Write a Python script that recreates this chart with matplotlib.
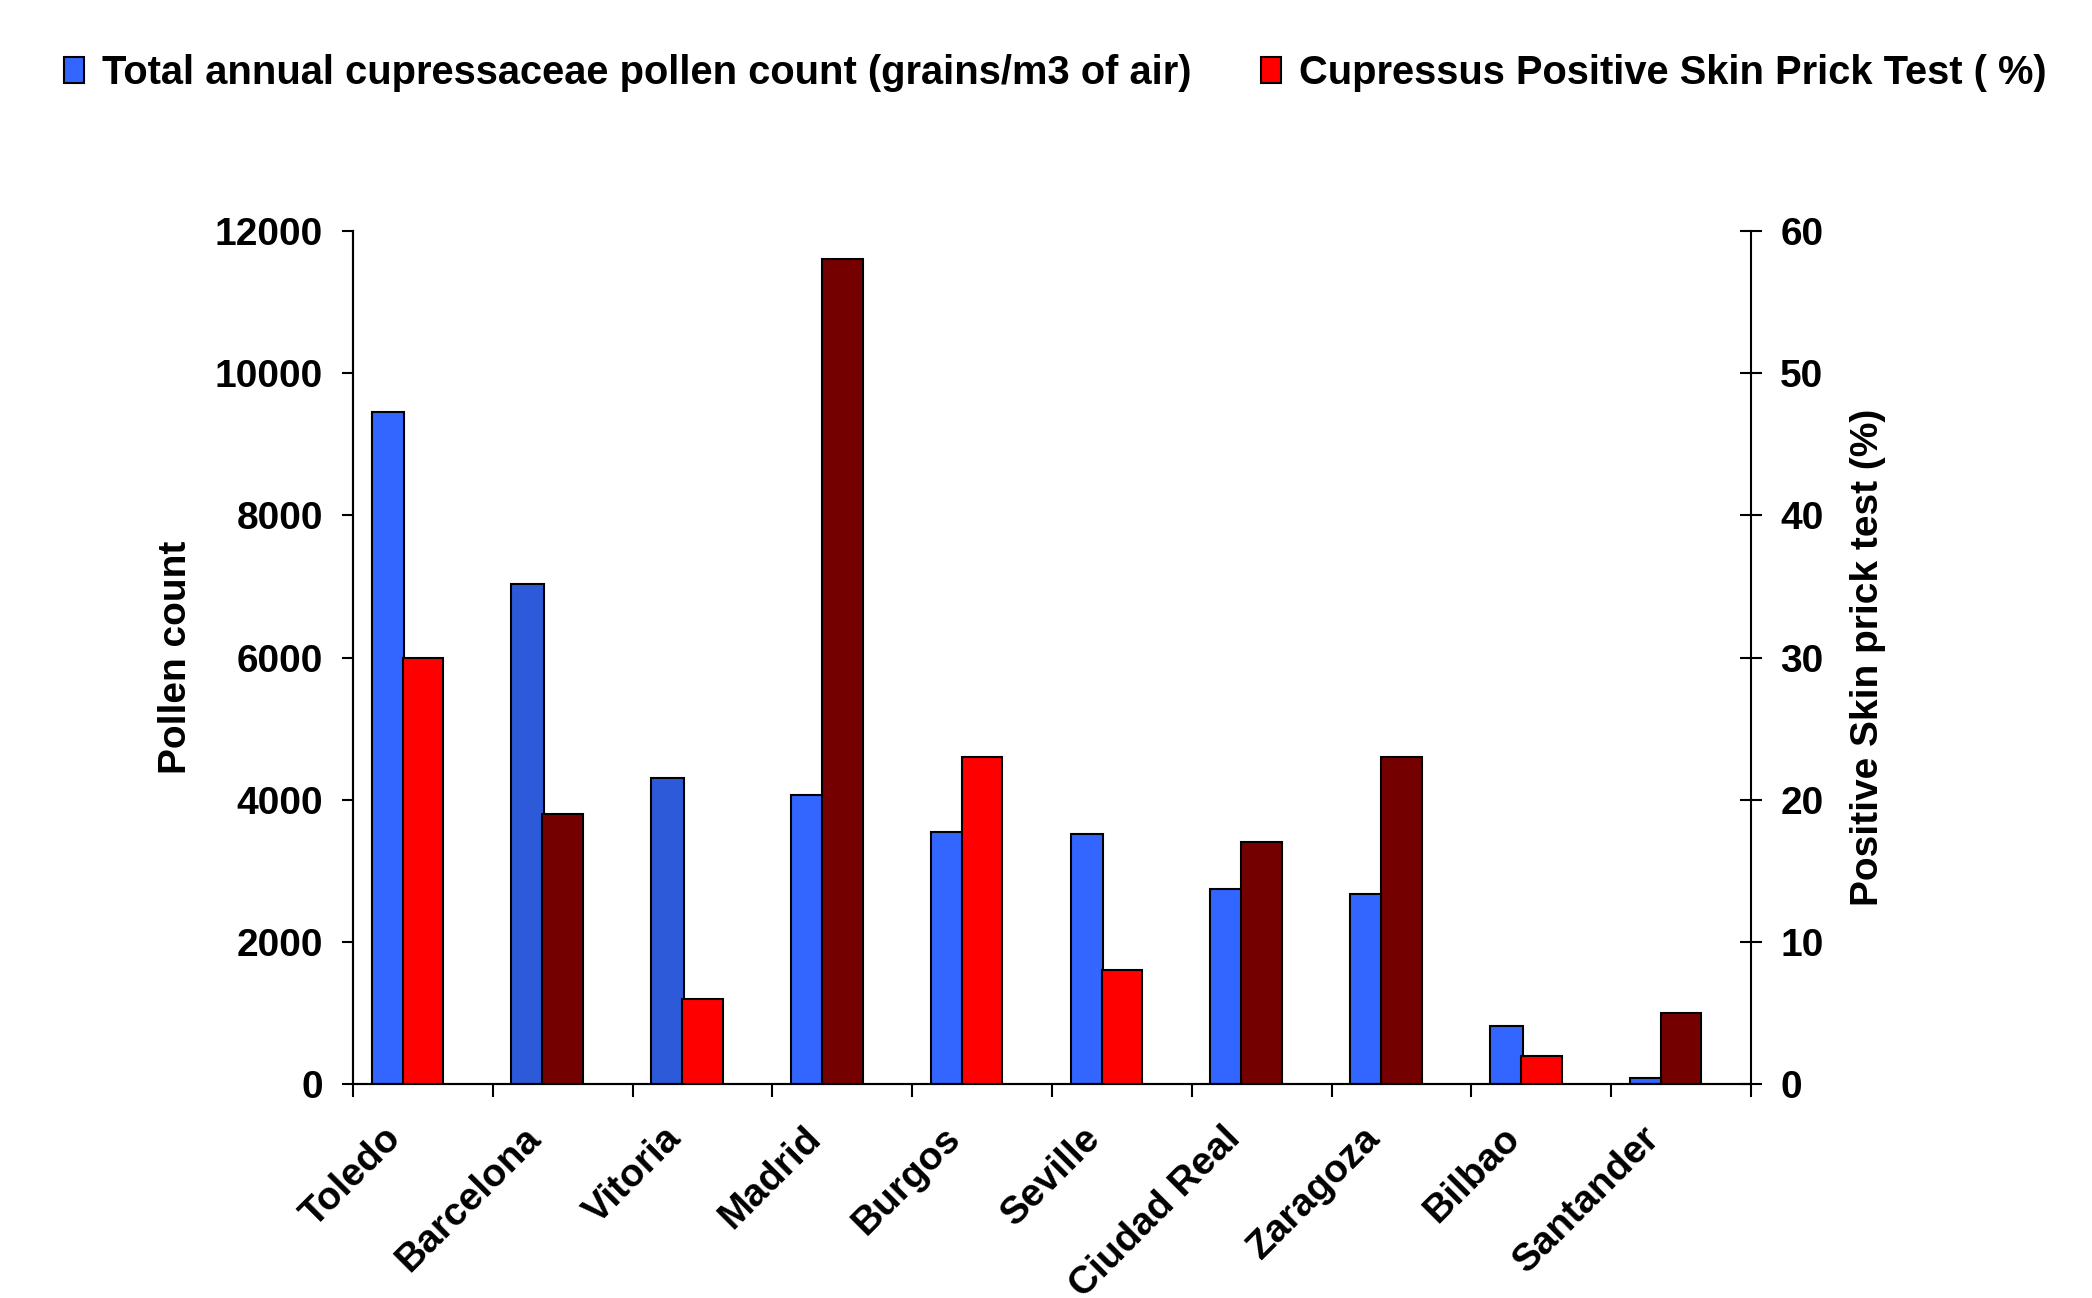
import matplotlib.pyplot as plt
import matplotlib.transforms as mtransforms
import numpy as np
from matplotlib.patches import Patch

plt.rcParams["font.family"] = ["Liberation Sans", "DejaVu Sans"]
plt.rcParams["font.weight"] = "bold"
plt.rcParams["axes.labelweight"] = "bold"
plt.rcParams["font.size"] = 28

cities = ["Toledo", "Barcelona", "Vitoria", "Madrid", "Burgos", "Seville",
          "Ciudad Real", "Zaragoza", "Bilbao", "Santander"]
pollen = [9450, 7030, 4300, 4070, 3550, 3520, 2750, 2670, 820, 90]
skin_test = [30, 19, 6, 58, 23, 8, 17, 23, 2, 5]

# bar shades as in the original figure
BLUE, DBLUE = "#3366FF", "#2C5AD8"
RED, DRED = "#FF0000", "#750000"
pollen_colors = [BLUE, DBLUE, DBLUE, BLUE, BLUE, BLUE, BLUE, BLUE, BLUE, BLUE]
skin_colors = [RED, DRED, RED, DRED, RED, RED, DRED, DRED, RED, DRED]

pollen_label = "Total annual cupressaceae pollen count (grains/m3 of air)"
skin_label = "Cupressus Positive Skin Prick Test ( %)"

fig = plt.figure(figsize=(20.92, 12.98), dpi=100)
ax = fig.add_axes([353 / 2092, 1 - 1084 / 1298, 1398 / 2092, 853 / 1298])
ax2 = ax.twinx()

x = np.arange(len(cities))
ax.bar(x - 0.25, pollen, width=0.235, color=pollen_colors,
       edgecolor="black", linewidth=1.5, zorder=2)
ax2.bar(x, skin_test, width=0.29, color=skin_colors,
        edgecolor="black", linewidth=1.5, zorder=2)

ax.set_xlim(-0.5, len(cities) - 0.5)
ax.set_ylim(0, 12000)
ax2.set_ylim(0, 60)
ax.set_yticks(np.arange(0, 12001, 2000))
ax2.set_yticks(np.arange(0, 61, 10))

ax.set_xticks(np.arange(-0.5, len(cities), 1))
ax.set_xticklabels([])
ax.set_xticks(x, minor=True)
ax.set_xticklabels(cities, minor=True, rotation=45, ha="right",
                   rotation_mode="anchor", va="center")
ax.tick_params(axis="x", which="major", direction="out", length=9.5, width=1.5)
ax.tick_params(axis="x", which="minor", length=0, pad=30)
ax.tick_params(axis="y", direction="out", length=8, width=1.5, pad=13.5)
ax2.tick_params(axis="y", direction="inout", length=16, width=1.5, pad=13)

shift = mtransforms.ScaledTranslation(-0.27, -0.07, fig.dpi_scale_trans)
for lab in ax.get_xticklabels(minor=True):
    lab.set_transform(lab.get_transform() + shift)

for sp in ["top", "right"]:
    ax.spines[sp].set_visible(False)
ax2.spines["top"].set_visible(False)
for a in (ax, ax2):
    for sp in a.spines.values():
        sp.set_linewidth(1.5)

ax.set_ylabel("Pollen count")
ax.yaxis.set_label_coords(-0.114, 0.5)
ax2.set_ylabel("Positive Skin prick test (%)")
ax2.yaxis.set_label_coords(1.071, 0.5)

legend_kw = dict(loc="center left", frameon=False, borderpad=0,
                 borderaxespad=0, handlelength=0.5, handleheight=0.65,
                 handletextpad=0.45, fontsize=28.7)
fig.legend(handles=[Patch(facecolor=BLUE, edgecolor="black", linewidth=1.5,
                          label=pollen_label)],
           bbox_to_anchor=(64 / 2092, 1 - 73 / 1298), **legend_kw)
fig.legend(handles=[Patch(facecolor=RED, edgecolor="black", linewidth=1.5,
                          label=skin_label)],
           bbox_to_anchor=(1261 / 2092, 1 - 73 / 1298), **legend_kw)

fig.savefig("out.png", dpi=100)
